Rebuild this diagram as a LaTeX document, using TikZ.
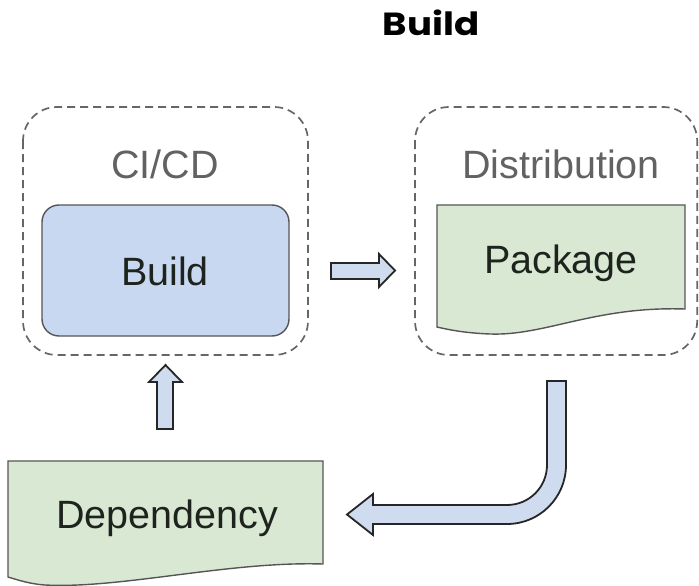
\documentclass[tikz,border=0pt]{standalone}
\usepackage{fontspec}
\setmainfont{Liberation Sans}
\newfontfamily\titlefont{Poppins}
\definecolor{dashgray}{HTML}{666666}
\definecolor{labelgray}{HTML}{626262}
\definecolor{inktext}{HTML}{1E231E}
\definecolor{buildblue}{HTML}{C9D8F1}
\definecolor{docgreen}{HTML}{D9E8D3}
\definecolor{arrowblue}{HTML}{CFDCEF}
\definecolor{edgegray}{HTML}{555555}
\tikzset{
  group/.style={draw=dashgray, line width=1.7pt, dash pattern=on 8pt off 5pt, rounded corners=34pt},
  grouplabel/.style={text=labelgray, font=\fontsize{39.5}{42}\selectfont, anchor=base, inner sep=0pt},
  itemlabel/.style={text=inktext, font=\fontsize{39.5}{42}\selectfont, anchor=base, inner sep=0pt},
  buildbox/.style={draw=edgegray, fill=buildblue, line width=1.4pt, rounded corners=17pt},
  docbox/.style={draw=edgegray, fill=docgreen, line width=1.4pt},
  blockarrow/.style={draw=black!85, fill=arrowblue, line width=1.8pt, line join=miter},
}
\begin{document}
\begin{tikzpicture}[x=1pt, y=-1pt]
\useasboundingbox (0,0) rectangle (699,586);
\fill[white] (0,0) rectangle (699,586);

% heading
\node[font=\titlefont\bfseries\fontsize{32}{36}\selectfont, anchor=base, inner sep=0pt] (title) at (431,36) {\scalebox{1.16}[1]{Build}};

% CI/CD group
\draw[group] (23,107) rectangle (308,355);
\node[grouplabel] (cicd) at (165,178) {CI/CD};
\draw[buildbox] (42,205) rectangle (289,336);
\node[itemlabel] (build) at (165,285) {Build};

% Distribution group
\draw[group] (415,107) rectangle (697.2,355);
\node[grouplabel] (dist) at (561,178) {Distribution};
\draw[docbox] (437,205) -- (685,205) -- (685,309)
  .. controls (595,306) and (545,336) .. (490,334)
  .. controls (465,333) and (450,330) .. (437,327) -- cycle;
\node[itemlabel] (package) at (561,273) {Package};

% Dependency document
\draw[docbox] (8,461) -- (323,461) -- (323,564)
  .. controls (230,561) and (120,589) .. (45,585)
  .. controls (30,584) and (18,580) .. (8,577) -- cycle;
\node[itemlabel] (dep) at (167,528) {Dependency};

% arrow from CI/CD to Distribution
\draw[blockarrow] (331,263) -- (379,263) -- (379,254) -- (395,270.5)
  -- (379,287) -- (379,279) -- (331,279) -- cycle;

% arrow from Dependency up to CI/CD
\draw[blockarrow] (157,429) -- (157,382) -- (149,382) -- (165.5,365)
  -- (182,382) -- (173,382) -- (173,429) -- cycle;

% bent arrow from Distribution back to Dependency
\draw[blockarrow] (547,381) -- (566,381) -- (566,465)
  .. controls (566,497.6) and (539.6,524) .. (507,524)
  -- (373,524) -- (373,535) -- (347,514.5) -- (373,494) -- (373,505)
  -- (507,505) .. controls (529.1,505) and (547,487.1) .. (547,465) -- cycle;
\end{tikzpicture}
\end{document}
